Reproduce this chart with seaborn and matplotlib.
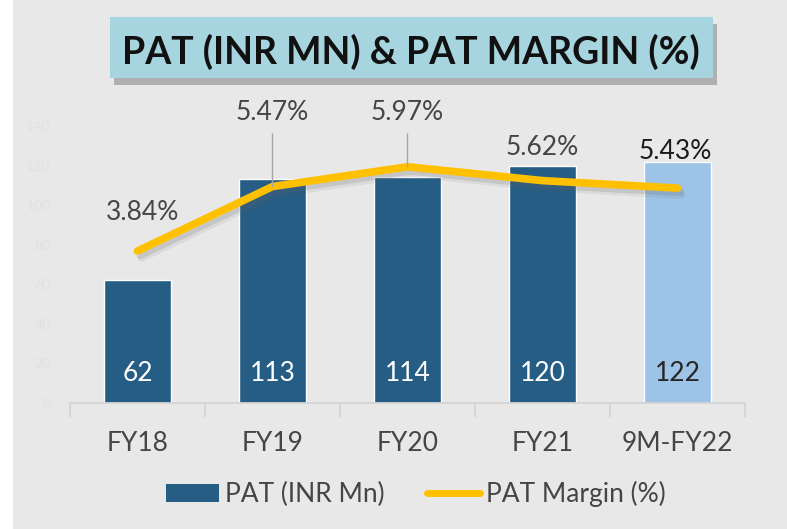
import matplotlib
matplotlib.use('Agg')
import matplotlib.pyplot as plt
import seaborn as sns
import pandas as pd
import numpy as np
from matplotlib.patches import Rectangle, Patch
from matplotlib.lines import Line2D
from matplotlib.ticker import FixedLocator
import matplotlib.patheffects as pe

# ---- data ----
categories = ["FY18", "FY19", "FY20", "FY21", "9M-FY22"]
pat = [62, 113, 114, 120, 122]
margin = [3.84, 5.47, 5.97, 5.62, 5.43]
margin_labels = ["3.84%", "5.47%", "5.97%", "5.62%", "5.43%"]
pat_labels = ["62", "113", "114", "120", "122"]
title = "PAT (INR MN) & PAT MARGIN (%)"
legend_labels = ["PAT (INR Mn)", "PAT Margin (%)"]

sns.set_theme(style="white")
plt.rcParams['font.family'] = ['Lato', 'DejaVu Sans']
TXT_W = 'normal'

W, H = 787, 529
fig = plt.figure(figsize=(W / 100, H / 100), dpi=100)
fig.patch.set_facecolor('#E8E8E8')
fig.patches.append(Rectangle((0, 0), 13 / W, 1, transform=fig.transFigure,
                             facecolor='white', edgecolor='none', zorder=0))

ax = fig.add_axes([70 / W, 1 - 403 / H, 675 / W, 277 / H])
ax.set_facecolor('none')

df = pd.DataFrame({'cat': categories, 'pat': pat, 'margin': margin})
bar_dark = '#265D85'
bar_light = '#9DC3E6'
bar_colors = [bar_dark] * 4 + [bar_light]
sns.barplot(data=df, x='cat', y='pat', hue='cat', palette=bar_colors,
            legend=False, width=0.5, saturation=1, ax=ax, zorder=2)
ax.set_xlim(-0.5, len(categories) - 0.5)
ax.set_ylim(0, 140)
ax.set_xlabel('')
ax.set_ylabel('')

for sp in ['top', 'right', 'left']:
    ax.spines[sp].set_visible(False)
ax.spines['bottom'].set_color('#D3D3D3')
ax.spines['bottom'].set_linewidth(1.3)
ax.set_xticks(range(len(categories)))
ax.set_xticklabels(categories, fontweight=TXT_W)
ax.xaxis.set_minor_locator(FixedLocator(np.arange(-0.5, len(categories), 1.0)))
ax.tick_params(axis='x', which='major', length=0, pad=20, labelsize=19,
               labelcolor='#454545')
ax.tick_params(axis='x', which='minor', length=10, width=1.3, color='#D3D3D3',
               direction='out', bottom=True)
ax.set_yticks(range(0, 141, 20))
ax.tick_params(axis='y', length=0, labelsize=10, labelcolor='#E1E1E1', pad=14)

# bar value labels
for i, (v, lab) in enumerate(zip(pat, pat_labels)):
    ax.text(i, 15, lab, ha='center', va='center', fontsize=19, fontweight=TXT_W,
            color='white' if i < 4 else '#262626', zorder=3)

# line on secondary axis
ax2 = ax.twinx()
ax2.set_facecolor('none')
sns.lineplot(x=np.arange(len(categories)), y=margin, ax=ax2, color='#FFC000',
             linewidth=5.5, sort=False, zorder=4,
             path_effects=[pe.SimpleLineShadow(offset=(2, -3), shadow_color='#666666', alpha=0.18),
                           pe.SimpleLineShadow(offset=(3, -5), shadow_color='#666666', alpha=0.10),
                           pe.Normal()])
ax2.lines[0].set_solid_capstyle('round')
ax2.lines[0].set_solid_joinstyle('round')
ax2.set_ylim(0, 7)
ax2.set_yticks([])
ax2.set_ylabel('')
for sp in ax2.spines.values():
    sp.set_visible(False)

offsets = [(5, 39), (0, 74), (0, 54), (0, 33), (-2, 37)]
label_colors = ['#454545', '#454545', '#454545', '#454545', '#1A1A1A']
for i, (m, lab) in enumerate(zip(margin, margin_labels)):
    kw = {}
    if i in (1, 2):
        kw['arrowprops'] = dict(arrowstyle='-', color='#A6A6A6', lw=1.0,
                                shrinkA=4, shrinkB=0)
    ax2.annotate(lab, xy=(i, m), xytext=offsets[i], textcoords='offset pixels',
                 ha='center', va='center', fontsize=19, fontweight=TXT_W,
                 color=label_colors[i], annotation_clip=False, zorder=5, **kw)

# title box
box = Rectangle((110 / W, 1 - 78 / H), 603 / W, 61 / H, transform=fig.transFigure,
                facecolor='#A6D5DF', edgecolor='none', zorder=1,
                path_effects=[pe.SimplePatchShadow(offset=(3, -5), shadow_rgbFace='#777777', alpha=0.5),
                              pe.Normal()])
fig.patches.append(box)
fig.text(411 / W, 1 - 52 / H, title, ha='center', va='center', fontsize=27,
         fontweight='bold', color='#111111', zorder=2)

# legend
handles = [Patch(facecolor=bar_dark, edgecolor='none'),
           Line2D([], [], color='#FFC000', lw=5, solid_capstyle='round')]
fig.legend(handles, legend_labels, loc='center', bbox_to_anchor=(416 / W, 1 - 494 / H),
           ncol=2, frameon=False, labelcolor='#454545',
           prop={'size': 19, 'weight': TXT_W},
           handlelength=2.0, handleheight=0.65, handletextpad=0.25, columnspacing=1.6)

fig.savefig('out.png', dpi=100, facecolor=fig.get_facecolor())
